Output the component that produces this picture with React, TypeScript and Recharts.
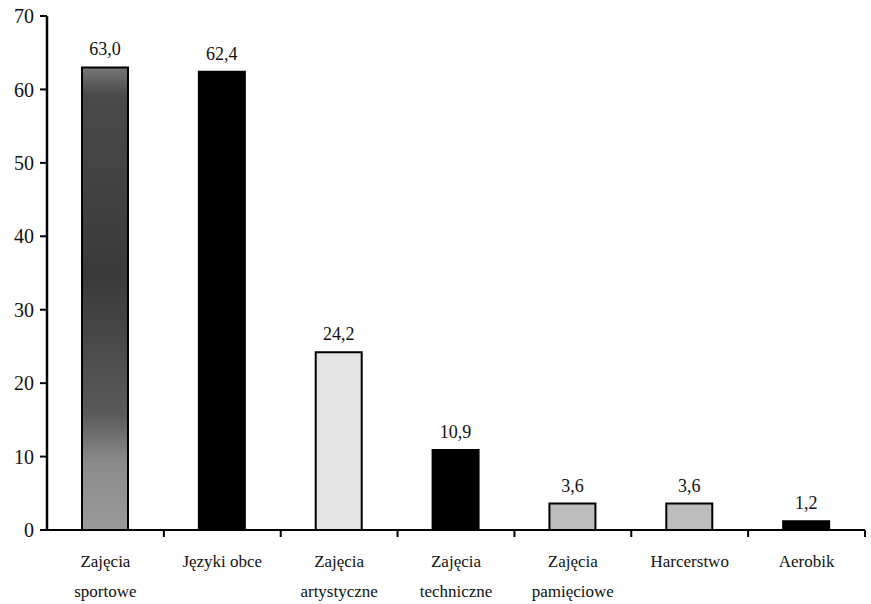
import React from 'react';
import { BarChart, Bar, XAxis, YAxis, Cell, LabelList } from 'recharts';

const categories = [
  'Zajęcia\nsportowe',
  'Języki obce',
  'Zajęcia\nartystyczne',
  'Zajęcia\ntechniczne',
  'Zajęcia\npamięciowe',
  'Harcerstwo',
  'Aerobik',
];
const values = [63.0, 62.4, 24.2, 10.9, 3.6, 3.6, 1.2];
const yTicks = [0, 10, 20, 30, 40, 50, 60, 70];

const fills = ['url(#sportGrad)', '#000000', '#e4e4e4', '#000000', '#bdbdbd', '#bdbdbd', '#000000'];

const data = categories.map((name, i) => ({ name, value: values[i] }));

const W = 871;
const H = 604;
const LEFT = 47;
const RIGHT = 6;
const BAND = (W - LEFT - RIGHT) / categories.length;
const FONT = 'Liberation Serif';

const CatTick = (props: any) => {
  const { x, y, payload } = props;
  const lines = String(payload.value).split('\n');
  return (
    <g>
      <line x1={x + BAND / 2} x2={x + BAND / 2} y1={y - 8} y2={y - 1} stroke="#000" strokeWidth={2} />
      <text x={x} y={y + 29} textAnchor="middle" style={{ fontFamily: FONT, fontSize: 17 }} fill="#111">
        {lines.map((l, i) => (
          <tspan key={i} x={x} dy={i === 0 ? 0 : 30}>
            {l}
          </tspan>
        ))}
      </text>
    </g>
  );
};

export default function App() {
  return (
    <div style={{ position: 'absolute', left: 0, top: 0, width: W, height: H, background: '#fff' }}>
      <BarChart width={W} height={H} data={data} margin={{ top: 16, right: RIGHT, left: 0, bottom: 0 }} barCategoryGap={0}>
        <defs>
          <linearGradient id="sportGrad" x1="0" y1="0" x2="0" y2="1">
            <stop offset="0%" stopColor="#777" />
            <stop offset="6%" stopColor="#4a4a4a" />
            <stop offset="45%" stopColor="#3a3a3a" />
            <stop offset="75%" stopColor="#5a5a5a" />
            <stop offset="85%" stopColor="#8a8a8a" />
            <stop offset="100%" stopColor="#9a9a9a" />
          </linearGradient>
        </defs>
        <XAxis
          dataKey="name"
          interval={0}
          height={74}
          axisLine={{ stroke: '#000', strokeWidth: 2 }}
          tickLine={false}
          tick={<CatTick />}
        />
        <YAxis
          width={LEFT}
          domain={[0, 70]}
          ticks={yTicks}
          interval={0}
          axisLine={{ stroke: '#000', strokeWidth: 2.5 }}
          tickLine={{ stroke: '#000', strokeWidth: 2 }}
          tickSize={7}
          tickMargin={6}
          tick={{ style: { fontFamily: FONT, fontSize: 20 }, fill: '#111' }}
        />
        <Bar dataKey="value" barSize={46} stroke="#000" strokeWidth={2} isAnimationActive={false}>
          {data.map((d, i) => (
            <Cell key={d.name} fill={fills[i]} />
          ))}
          <LabelList
            dataKey="value"
            position="top"
            offset={12}
            formatter={(v: any) => Number(v).toFixed(1).replace('.', ',')}
            style={{ fontFamily: FONT, fontSize: 18, fill: '#111' }}
          />
        </Bar>
      </BarChart>
    </div>
  );
}
